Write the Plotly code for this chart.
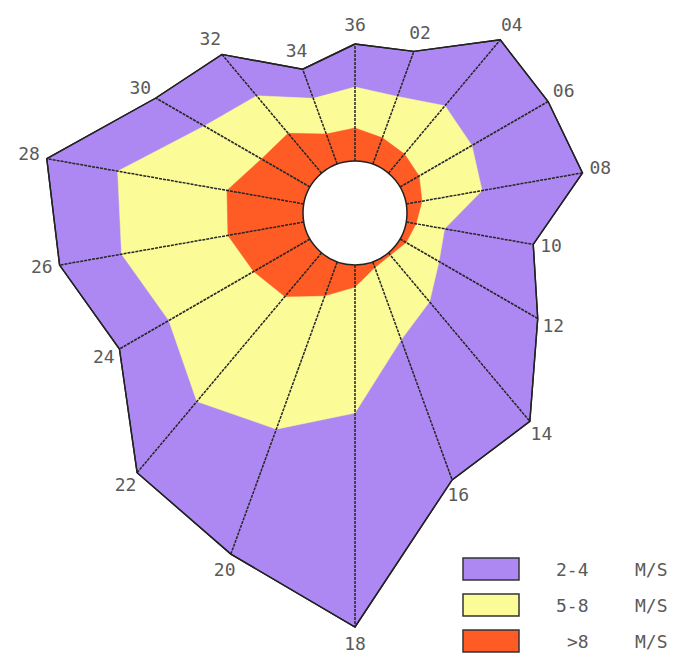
import numpy as np
import plotly.graph_objects as go

# ---- data -------------------------------------------------------------
directions = ["36", "02", "04", "06", "08", "10", "12", "14", "16",
              "18", "20", "22", "24", "26", "28", "30", "32", "34"]
bearing_deg = [0, 20, 40, 60, 80, 100, 120, 140, 160,
               180, 200, 220, 240, 260, 280, 300, 320, 340]

# frequency of each wind-speed class per direction (chart units)
freq_gt8 = [3.3, 2.8, 2.5, 2.2, 1.6, 1.0, 0.7, 0.3, 0.6,
            2.2, 3.6, 5.7, 6.5, 7.7, 7.8, 5.6, 5.2, 3.2]
freq_5_8 = [4.1, 4.4, 6.3, 6.1, 6.1, 2.9, 3.8, 6.1, 7.7,
            12.6, 14.2, 13.7, 9.8, 10.8, 11.1, 6.6, 4.9, 3.8]
freq_2_4 = [4.3, 4.8, 8.6, 8.8, 10.2, 9.0, 11.4, 15.6, 14.9,
            21.4, 13.3, 9.3, 5.7, 6.3, 7.2, 5.6, 5.4, 3.1]

legend_labels = ["2-4", "5-8", ">8"]
unit_label = "M/S"

# ---- style ------------------------------------------------------------
C_PURPLE = "#AD88F3"
C_YELLOW = "#FBFB98"
C_ORANGE = "#FF5B24"
C_LINE = "#222222"
C_TEXT = "#5a5a5a"
W, H = 675, 654
CX, CY = 355, 213          # pixel centre of the rose
PX_PER_UNIT = 10.0
HOLE = 5.2                 # hole radius, chart units
LABEL_GAP = 1.8

theta = np.deg2rad(np.array(bearing_deg, dtype=float))
cum_orange = np.array(freq_gt8)
cum_yellow = cum_orange + np.array(freq_5_8)
cum_outer = cum_yellow + np.array(freq_2_4)


def to_xy(r):
    rr = HOLE + np.asarray(r, dtype=float)
    x = rr * np.sin(theta)
    y = rr * np.cos(theta)
    return list(x) + [x[0]], list(y) + [y[0]]


fig = go.Figure()

for cum, col, ln in [(cum_outer, C_PURPLE, dict(color=C_LINE, width=1.4)),
                     (cum_yellow, C_YELLOW, dict(color=C_YELLOW, width=0.5)),
                     (cum_orange, C_ORANGE, dict(color=C_ORANGE, width=0.5))]:
    x, y = to_xy(cum)
    fig.add_trace(go.Scatter(x=x, y=y, mode="lines", fill="toself",
                             fillcolor=col, line=ln, hoverinfo="skip"))

# spokes
sx, sy = [], []
for t, o in zip(theta, cum_outer):
    sx += [HOLE * np.sin(t), (HOLE + o) * np.sin(t), None]
    sy += [HOLE * np.cos(t), (HOLE + o) * np.cos(t), None]
fig.add_trace(go.Scatter(x=sx, y=sy, mode="lines",
                         line=dict(color="#262626", width=1.5, dash="3px,1px"),
                         hoverinfo="skip"))

# outline on top
x, y = to_xy(cum_outer)
fig.add_trace(go.Scatter(x=x, y=y, mode="lines",
                         line=dict(color=C_LINE, width=1.4), hoverinfo="skip"))

# direction labels
lx, ly = to_xy(cum_outer + LABEL_GAP)
fig.add_trace(go.Scatter(x=lx[:-1], y=ly[:-1], mode="text", text=directions,
                         textposition="middle center", cliponaxis=False,
                         textfont=dict(family="DejaVu Sans Mono", size=18, color=C_TEXT),
                         hoverinfo="skip"))

# hole
fig.add_shape(type="circle", xref="x", yref="y", x0=-HOLE, x1=HOLE, y0=-HOLE, y1=HOLE,
              fillcolor="white", line=dict(color=C_LINE, width=1.5), layer="above")

x_range = [-CX / PX_PER_UNIT, (W - CX) / PX_PER_UNIT]
y_range = [-(H - CY) / PX_PER_UNIT, CY / PX_PER_UNIT]

fig.update_layout(
    width=W, height=H,
    margin=dict(l=0, r=0, t=0, b=0),
    paper_bgcolor="white", plot_bgcolor="white",
    showlegend=False,
    xaxis=dict(range=x_range, visible=False, fixedrange=True),
    yaxis=dict(range=y_range, visible=False, fixedrange=True),
)

# legend
rows_y = [569, 605, 641]
colors = [C_PURPLE, C_YELLOW, C_ORANGE]
for lab, col, yy in zip(legend_labels, colors, rows_y):
    fig.add_shape(type="rect", xref="paper", yref="paper",
                  x0=463 / W, x1=519 / W, y0=1 - (yy + 11) / H, y1=1 - (yy - 11) / H,
                  fillcolor=col, line=dict(color="#333333", width=1.5))
    fig.add_annotation(x=(572 if lab != ">8" else 578) / W, y=1 - yy / H,
                       xref="paper", yref="paper",
                       text=lab, showarrow=False, xanchor="center", yanchor="middle",
                       font=dict(family="DejaVu Sans Mono", size=18, color=C_TEXT))
    fig.add_annotation(x=651 / W, y=1 - yy / H, xref="paper", yref="paper",
                       text=unit_label, showarrow=False, xanchor="center", yanchor="middle",
                       font=dict(family="DejaVu Sans Mono", size=18, color=C_TEXT))

fig.write_html("out.html", config={"displayModeBar": False},
               post_script="document.body.style.margin='0';document.body.style.overflow='hidden';")
